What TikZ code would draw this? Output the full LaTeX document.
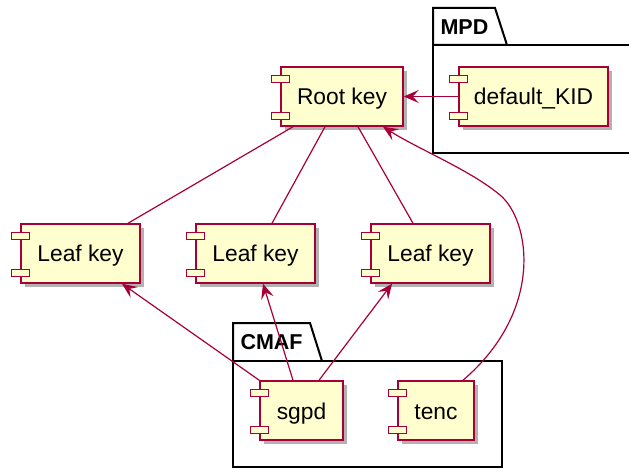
\documentclass[tikz,border=0pt]{standalone}
\usepackage{fontspec}
\setmainfont{Liberation Sans}
\usetikzlibrary{arrows.meta,shadows}
\definecolor{umlred}{HTML}{A80036}
\definecolor{umlfill}{HTML}{FEFECE}
\begin{document}
\begin{tikzpicture}[x=1pt,y=-1pt,
  comp/.style={draw=umlred,fill=umlfill,line width=1.5pt,minimum height=59pt,
    font=\fontsize{22.8}{26}\selectfont,text height=22pt,text depth=5pt,
    drop shadow={shadow xshift=4pt,shadow yshift=-4pt,opacity=0.3,fill=black}},
  bar/.style={draw=umlred,fill=umlfill,line width=1.3pt},
  pkg/.style={draw=black,line width=2pt,fill=white},
  pkgname/.style={font=\bfseries\fontsize{21.5}{24}\selectfont,anchor=west},
  link/.style={draw=umlred,line width=1.2pt},
  dep/.style={link,-{Stealth[length=15pt,width=13pt,inset=6pt]}}]
  \clip (0,0) rectangle (629,470);
  \begin{scope}[drop shadow={shadow xshift=4pt,shadow yshift=-4pt,opacity=0.3,fill=black}]
  \draw[pkg] (433,45) -- (433,8) -- (495,8) -- (507,45) -- cycle;
  \draw[pkg] (433,45) rectangle (660,153);
  \draw[pkg] (233,361) -- (233,323) -- (310,323) -- (322,361) -- cycle;
  \draw[pkg] (233,361) rectangle (502,467);
  \end{scope}
  \node[pkgname] (mpd) at (437,27) {MPD};
  \node[pkgname] (cmaf) at (237,342) {CMAF};

  \node[comp,minimum width=122pt] (root) at (342,96.5) {Root key};
  \node[comp,minimum width=149pt] (kid) at (533.5,96.5) {default\_KID};
  \node[comp,minimum width=119pt] (leafa) at (80.5,253.5) {Leaf key};
  \node[comp,minimum width=119pt] (leafb) at (255.5,253.5) {Leaf key};
  \node[comp,minimum width=119pt] (leafc) at (430.5,253.5) {Leaf key};
  \node[comp,minimum width=83pt] (sgpd) at (301.5,410.5) {sgpd};
  \node[comp,minimum width=76pt] (tenc) at (436,410.5) {tenc};
  \foreach \n in {root,kid,leafa,leafb,leafc,sgpd,tenc}{
    \draw[bar] ([xshift=-9pt]\n.north west) ++(0,9) rectangle ++(18,7);
    \draw[bar] ([xshift=-9pt]\n.south west) ++(0,-14) rectangle ++(18,7);
  }

  \draw[dep] (kid.west) -- (root.east);
  \draw[link] ([xshift=-49pt]root.south) -- ([xshift=47.5pt]leafa.north);
  \draw[link] ([xshift=-17pt]root.south) -- ([xshift=16.5pt]leafb.north);
  \draw[link] ([xshift=16pt]root.south) -- ([xshift=-17.5pt]leafc.north);
  \draw[dep] (sgpd.north west) -- ([xshift=41.5pt]leafa.south);
  \draw[dep] ([xshift=-8.5pt]sgpd.north) -- ([xshift=7.5pt]leafb.south);
  \draw[dep] ([xshift=17.5pt]sgpd.north) -- ([xshift=-38.5pt]leafc.south);
  \draw[dep] ([xshift=27pt]tenc.north) .. controls (545,310) and (530,220) .. (500,195)
    .. controls (470,170) and (420,150) .. ([xshift=41pt]root.south);
\end{tikzpicture}
\end{document}
